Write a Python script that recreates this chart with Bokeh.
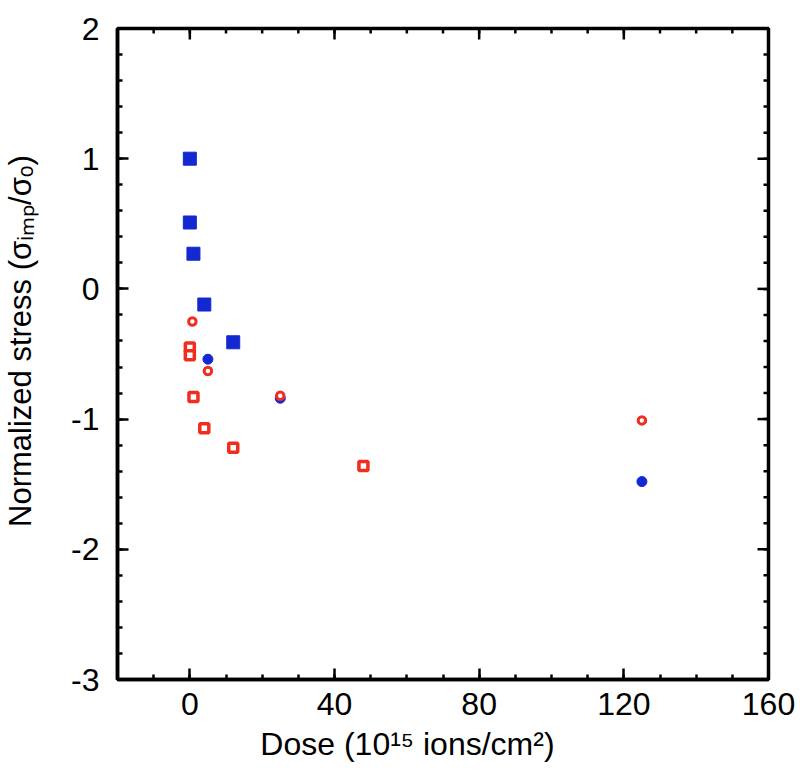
import math
from bokeh.plotting import figure
from bokeh.models import LinearAxis, FixedTicker, Range1d
from bokeh.embed import file_html
from bokeh.resources import INLINE

# ---- data ----
blue_sq_x = [0, 0, 1, 4, 12]
blue_sq_y = [1.00, 0.51, 0.27, -0.12, -0.41]

blue_circ_x = [5, 25, 125]
blue_circ_y = [-0.54, -0.84, -1.48]

red_sq_x = [0, 0, 1, 4, 12, 48]
red_sq_y = [-0.45, -0.51, -0.83, -1.07, -1.22, -1.36]

red_circ_x = [0.7, 5, 25, 125]
red_circ_y = [-0.25, -0.63, -0.82, -1.01]

X0, X1 = -20, 160
Y0, Y1 = -3, 2
x_major = [0, 40, 80, 120, 160]
x_minor = [-20, -10, 0, 10, 20, 30, 40, 50, 60, 70, 80, 90, 100, 110, 120, 130, 140, 150, 160]
y_major = [-3, -2, -1, 0, 1, 2]
y_minor = [-3.0, -2.8, -2.6, -2.4, -2.2, -2.0, -1.8, -1.6, -1.4, -1.2, -1.0, -0.8, -0.6,
           -0.4, -0.2, 0.0, 0.2, 0.4, 0.6, 0.8, 1.0, 1.2, 1.4, 1.6, 1.8, 2.0]

x_title = "Dose (10\u00b9\u2075 ions/cm\u00b2)"
y_title = "Normalized stress (\u03c3\u1d62\u2098\u209a/\u03c3\u2092)"

BLUE = "#1428D2"
RED = "#F02D1E"
FONT = "Liberation Sans"
NB = "\u00a0"

p = figure(frame_width=651, frame_height=651,
           min_border_left=117, min_border_right=30, min_border_top=28, min_border_bottom=95,
           x_range=Range1d(X0, X1), y_range=Range1d(Y0, Y1),
           output_backend="svg", toolbar_location=None, x_axis_location=None, y_axis_location=None)
p.grid.visible = False
p.outline_line_color = "black"
p.outline_line_width = 3.5
p.background_fill_color = "white"
p.border_fill_color = "white"


def style_axis(ax):
    ax.axis_line_width = 3.5
    ax.axis_line_color = "black"
    ax.major_tick_in = 11
    ax.major_tick_out = 0
    ax.minor_tick_in = 5
    ax.minor_tick_out = 0
    ax.major_tick_line_width = 2.5
    ax.minor_tick_line_width = 2.5
    ax.major_tick_line_color = "black"
    ax.minor_tick_line_color = "black"
    ax.major_label_text_font = FONT
    ax.major_label_text_color = "black"
    ax.major_label_text_font_size = "32px"
    ax.axis_label_text_font = FONT
    ax.axis_label_text_font_style = "normal"
    ax.axis_label_text_color = "black"


xt = FixedTicker(ticks=x_major, minor_ticks=x_minor)
yt = FixedTicker(ticks=y_major, minor_ticks=y_minor)

bottom = LinearAxis(ticker=xt, axis_label=x_title + NB * 8)
style_axis(bottom)
bottom.major_label_standoff = 13
bottom.major_label_overrides = {v: str(v) for v in x_major}
bottom.axis_label_text_font_size = "32px"
bottom.axis_label_standoff = 8

left = LinearAxis(ticker=yt, axis_label=NB * 3 + y_title)
style_axis(left)
left.major_label_standoff = 18
left.major_label_overrides = {v: str(v) for v in y_major}
left.axis_label_text_font_size = "31px"
left.axis_label_standoff = 30

p.add_layout(bottom, "below")
p.add_layout(left, "left")

# mirrored inward ticks on the top and right edges
TK = dict(length_units="screen", line_color="black", line_width=2.5)
p.ray(x=x_major, y=[Y1] * len(x_major), length=11, angle=-math.pi / 2, **TK)
p.ray(x=x_minor, y=[Y1] * len(x_minor), length=5, angle=-math.pi / 2, **TK)
p.ray(x=[X1] * len(y_major), y=y_major, length=11, angle=math.pi, **TK)
p.ray(x=[X1] * len(y_minor), y=y_minor, length=5, angle=math.pi, **TK)

# ---- markers ----
p.scatter(blue_sq_x, blue_sq_y, marker="square", size=13, fill_color=BLUE, line_color=BLUE, line_width=1)
p.scatter(blue_circ_x, blue_circ_y, marker="circle", size=10, fill_color=BLUE, line_color=BLUE, line_width=1)
p.scatter(red_sq_x, red_sq_y, marker="square", size=9, fill_color="white", line_color=RED, line_width=3.5)
p.scatter(red_circ_x, red_circ_y, marker="circle", size=7.5, fill_color="white", line_color=RED, line_width=3)

open("out.html", "w").write(file_html(p, INLINE))
